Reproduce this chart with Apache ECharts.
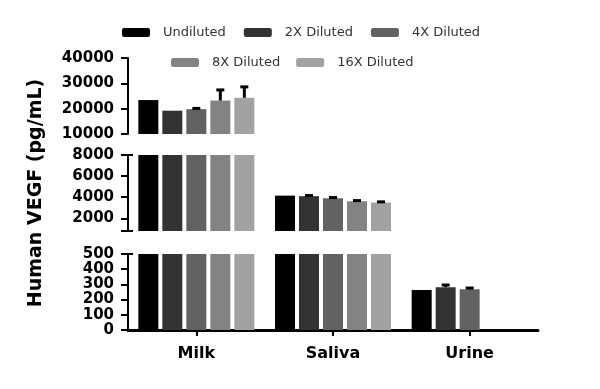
<!DOCTYPE html>
<html>
<head>
    <meta charset="utf-8">
    <title>Human VEGF</title>
    <script src="https://cdn.jsdelivr.net/npm/echarts@6/dist/echarts.min.js"></script>
    <style>
      html, body { margin: 0; padding: 0; background: #fff; }
      #chart { width: 600px; height: 389px; }
    </style>
</head>
<body>
    <div id="chart"></div>
    <script>
    // data
    var categories = ['Milk', 'Saliva', 'Urine'];
    var seriesNames = ['Undiluted', '2X Diluted', '4X Diluted', '8X Diluted', '16X Diluted'];
    var undiluted  = [23400, 4150, 263];
    var diluted2x  = [19200, 4100, 282];
    var diluted4x  = [19800, 3900, 268];
    var diluted8x  = [23200, 3620, null];
    var diluted16x = [24300, 3500, null];
    // upper error (SD)
    var err_undiluted  = [0, 0, 0];
    var err_diluted2x  = [0, 60, 14];
    var err_diluted4x  = [300, 70, 8];
    var err_diluted8x  = [4200, 60, 0];
    var err_diluted16x = [4300, 60, 0];
    // broken y axis segments, top to bottom
    var segTicks0 = [10000, 20000, 30000, 40000];
    var segTicks1 = [800, 2000, 4000, 6000, 8000];
    var segLabels1 = [2000, 4000, 6000, 8000];
    var segTicks2 = [0, 100, 200, 300, 400, 500];

    var allValues = [undiluted, diluted2x, diluted4x, diluted8x, diluted16x];
    var allErrors = [err_undiluted, err_diluted2x, err_diluted4x, err_diluted8x, err_diluted16x];
    var colors = ['#000000', '#333333', '#626262', '#838383', '#a2a2a2'];

    var segments = [
        { min: 10000, max: 40000, ticks: segTicks0, labels: segTicks0, caps: [], top: 58 },
        { min: 800, max: 8000, ticks: segTicks1, labels: segLabels1, caps: [800, 8000], top: 155 },
        { min: 0, max: 500, ticks: segTicks2, labels: segTicks2, caps: [500], top: 254 }
    ];

    var axisLine = { show: true, lineStyle: { color: '#000', width: 2 } };
    var grids = [], xAxes = [], yAxes = [], series = [];

    function errRender(seg) {
        return function (params, api) {
            var v = api.value(1), e = api.value(2), s = api.value(3);
            if (isNaN(v) || !e) return;
            if (v < seg.min || v > seg.max) return;
            var top = Math.min(v + e, seg.max);
            var base = api.coord([api.value(0), v]);
            var tip = api.coord([api.value(0), top]);
            var cx = base[0] + (s - 2) * 24;
            return {
                type: 'group',
                children: [
                    { type: 'line', shape: { x1: cx, y1: base[1], x2: cx, y2: tip[1] }, style: { stroke: '#000', lineWidth: 3 } },
                    { type: 'line', shape: { x1: cx - 4, y1: tip[1], x2: cx + 4, y2: tip[1] }, style: { stroke: '#000', lineWidth: 3 } }
                ]
            };
        };
    }

    segments.forEach(function (seg, g) {
        grids.push({ left: 128, right: 62, top: seg.top, height: 76 });
        var last = g === segments.length - 1;
        xAxes.push({
            type: 'category', gridIndex: g, data: categories, show: last,
            axisLine: { show: true, lineStyle: { color: '#000', width: 3 } },
            axisTick: { show: true, alignWithLabel: true, length: 6, lineStyle: { color: '#000', width: 2 } },
            axisLabel: { margin: 16, color: '#000', fontFamily: 'DejaVu Sans', fontWeight: 'bold', fontSize: 16 }
        });
        var mainIdx = yAxes.length;
        var y = {
            type: 'value', gridIndex: g, min: seg.min, max: seg.max,
            axisLine: axisLine,
            axisTick: { show: true, length: 7, customValues: seg.ticks, lineStyle: { color: '#000', width: 2 } },
            axisLabel: {
                margin: 14, customValues: seg.labels,
                color: '#000', fontFamily: 'DejaVu Sans', fontWeight: 'bold', fontSize: 15,
                formatter: function (v) { return String(v); }
            },
            splitLine: { show: false }
        };
        if (g === 1) {
            y.name = 'Human VEGF (pg/mL)';
            y.nameLocation = 'middle';
            y.nameGap = 82;
            y.nameTextStyle = { color: '#000', fontFamily: 'DejaVu Sans', fontWeight: 'bold', fontSize: 19 };
        }
        yAxes.push(y);
        if (seg.caps.length) {
            yAxes.push({
                type: 'value', gridIndex: g, min: seg.min, max: seg.max, position: 'left',
                axisLine: { show: false }, axisLabel: { show: false }, splitLine: { show: false },
                axisTick: { show: true, inside: true, length: 5, customValues: seg.caps, lineStyle: { color: '#000', width: 2 } }
            });
        }
        var errData = [];
        seriesNames.forEach(function (name, s) {
            series.push({
                name: name, type: 'bar', xAxisIndex: g, yAxisIndex: mainIdx,
                data: allValues[s], barWidth: 20, barGap: '20%',
                itemStyle: { color: colors[s] }, clip: true
            });
            allValues[s].forEach(function (v, c) {
                if (v != null) errData.push([c, v, allErrors[s][c], s]);
            });
        });
        series.push({
            name: 'err' + g, type: 'custom', xAxisIndex: g, yAxisIndex: mainIdx,
            renderItem: errRender(seg), data: errData, encode: { x: 0, y: 1 }, z: 5, silent: true
        });
    });

    var legendText = { color: '#333', fontFamily: 'DejaVu Sans', fontSize: 13, padding: [0, 0, 0, 8] };
    var option = {
        animation: false,
        legend: [
            { data: seriesNames.slice(0, 3), left: 122, top: 26, padding: 0, itemWidth: 28, itemHeight: 9, itemGap: 18, icon: 'roundRect', textStyle: legendText },
            { data: seriesNames.slice(3), left: 171, top: 56, padding: 0, itemWidth: 28, itemHeight: 9, itemGap: 16, icon: 'roundRect', textStyle: legendText }
        ],
        grid: grids,
        xAxis: xAxes,
        yAxis: yAxes,
        series: series
    };
    var myChart = echarts.init(document.getElementById('chart'));
    myChart.setOption(option);
    </script>
</body>
</html>
